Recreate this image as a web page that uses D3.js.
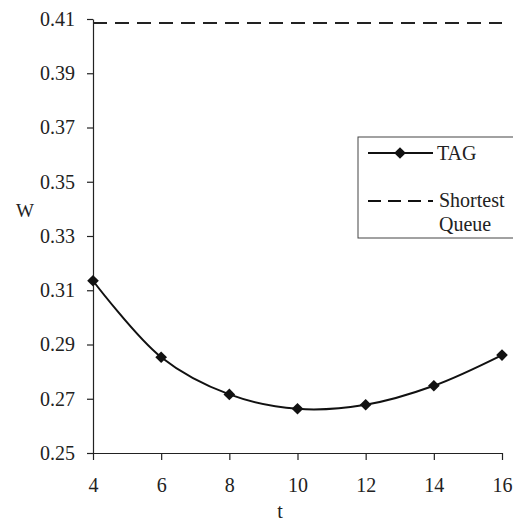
<!DOCTYPE html>
<html>
<head>
<meta charset="utf-8">
<script src="https://cdn.jsdelivr.net/npm/d3@7"></script>
<style>
  body { margin: 0; background: #fff; }
  svg text { font-family: "Liberation Serif", "Times New Roman", serif; fill: #222; }
</style>
</head>
<body>
<svg id="chart" width="513" height="523"></svg>
<script>
// data
var tValues = [4, 6, 8, 10, 12, 14, 16];
var tagW = [0.3135, 0.2853, 0.2716, 0.2663, 0.2678, 0.2748, 0.2861];
var shortestQueueW = 0.4085;
var yTicks = [0.25, 0.27, 0.29, 0.31, 0.33, 0.35, 0.37, 0.39, 0.41];
var xTicks = [4, 6, 8, 10, 12, 14, 16];

var svg = d3.select("#chart");
var margin = { top: 19, right: 11, bottom: 70, left: 93 };
var width = 513, height = 523;

var x = d3.scaleLinear().domain([4, 16]).range([margin.left, width - margin.right]);
var y = d3.scaleLinear().domain([0.25, 0.41]).range([height - margin.bottom, margin.top]);

// axes
svg.append("g")
  .attr("transform", "translate(" + margin.left + ",0)")
  .call(d3.axisLeft(y).tickValues(yTicks).tickFormat(d3.format(".2f")).tickSize(6).tickSizeOuter(0).tickPadding(12));
svg.append("g")
  .attr("transform", "translate(0," + (height - margin.bottom) + ")")
  .call(d3.axisBottom(x).tickValues(xTicks).tickSize(7).tickSizeOuter(0).tickPadding(18));

svg.selectAll(".tick text")
  .attr("font-family", "'Liberation Serif', serif")
  .style("font-family", "'Liberation Serif', serif")
  .style("font-size", "20px").attr("fill", "#222");
svg.selectAll(".domain, .tick line").attr("stroke", "#222").attr("stroke-width", 1.2);

// axis titles
svg.append("text").attr("x", 280).attr("y", 518).attr("text-anchor", "middle")
  .style("font-size", "20px").text("t");
svg.append("text").attr("x", 25).attr("y", 217).attr("text-anchor", "middle")
  .style("font-size", "19px").text("W");

// shortest queue (dashed)
svg.append("line")
  .attr("x1", x(4)).attr("x2", x(16))
  .attr("y1", y(shortestQueueW)).attr("y2", y(shortestQueueW))
  .attr("stroke", "#222").attr("stroke-width", 2)
  .attr("stroke-dasharray", "14,8");

// TAG curve
var pts = tValues.map(function (t, i) { return [t, tagW[i]]; });
var line = d3.line()
  .x(function (d) { return x(d[0]); })
  .y(function (d) { return y(d[1]); })
  .curve(d3.curveCatmullRom.alpha(0.5));

svg.append("path")
  .datum(pts)
  .attr("d", line)
  .attr("fill", "none")
  .attr("stroke", "#111")
  .attr("stroke-width", 2);

var diamond = d3.symbol().type(d3.symbolSquare).size(68);
svg.selectAll(".pt")
  .data(pts)
  .enter().append("path")
  .attr("class", "pt")
  .attr("d", diamond)
  .attr("transform", function (d) { return "translate(" + x(d[0]) + "," + y(d[1]) + ") rotate(45)"; })
  .attr("fill", "#111");

// legend
var lg = svg.append("g");
lg.append("rect")
  .attr("x", 358).attr("y", 137).attr("width", 200).attr("height", 101)
  .attr("fill", "#fff").attr("stroke", "#444").attr("stroke-width", 1);
lg.append("line").attr("x1", 368).attr("x2", 433).attr("y1", 153).attr("y2", 153)
  .attr("stroke", "#111").attr("stroke-width", 2);
lg.append("path").attr("d", diamond)
  .attr("transform", "translate(400,153) rotate(45)").attr("fill", "#111");
lg.append("text").attr("x", 437).attr("y", 160).style("font-size", "20px").text("TAG");
lg.append("line").attr("x1", 368).attr("x2", 433).attr("y1", 201).attr("y2", 201)
  .attr("stroke", "#111").attr("stroke-width", 2).attr("stroke-dasharray", "13,7");
lg.append("text").attr("x", 439).attr("y", 207).style("font-size", "20px").text("Shortest");
lg.append("text").attr("x", 439).attr("y", 231).style("font-size", "20px").text("Queue");
</script>
</body>
</html>
